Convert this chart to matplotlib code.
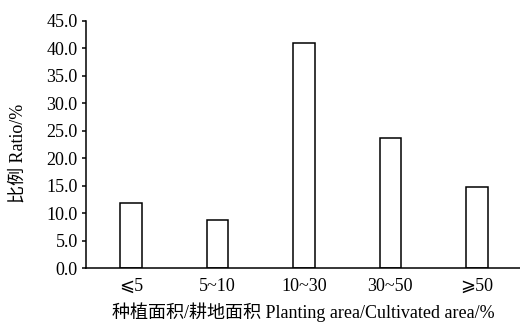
import matplotlib
matplotlib.use("Agg")
import matplotlib.pyplot as plt

categories = ["⩽5", "5~10", "10~30", "30~50", "⩾50"]
values = [11.9, 8.7, 41.0, 23.7, 14.7]
yticks = [0, 5, 10, 15, 20, 25, 30, 35, 40, 45]

plt.rcParams['font.family'] = ['Liberation Serif', 'Noto Sans CJK SC', 'DejaVu Sans']

fig = plt.figure(figsize=(5.2, 3.27), dpi=100)
ax = fig.add_axes([0.1654, 0.1804, 0.8346, 0.7554])

x = list(range(len(categories)))
ax.bar(x, values, width=0.25, color='white', edgecolor='black', linewidth=1.1)

ax.set_xlim(-0.52, 4.5)
ax.set_ylim(0, 45)
ax.set_yticks(yticks)
ax.set_yticklabels([f"{v:.1f}" for v in yticks], fontsize=13)
ax.set_xticks(x)
ax.set_xticklabels(categories, fontsize=13)
ax.tick_params(axis='x', length=0, pad=7)
ax.tick_params(axis='y', direction='out', length=3, width=1.1, pad=3)

for s in ['top', 'right']:
    ax.spines[s].set_visible(False)
for s in ['left', 'bottom']:
    ax.spines[s].set_linewidth(1.1)

fig.text(0.035, 0.53, "比例 Ratio/%", rotation=90, ha='center', va='center', fontsize=13)
fig.text(0.583, 0.045, "种植面积/耕地面积 Planting area/Cultivated area/%",
         ha='center', va='center', fontsize=13)

fig.savefig("out.png", dpi=100)
